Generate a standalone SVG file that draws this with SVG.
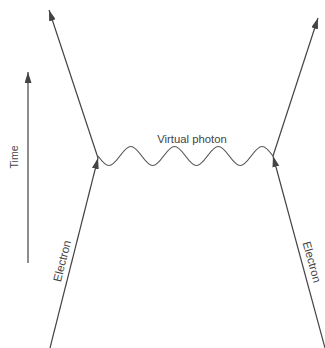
<svg xmlns="http://www.w3.org/2000/svg" width="325" height="348" viewBox="0 0 325 348">
  <defs>
    <marker id="arrow" markerUnits="userSpaceOnUse" markerWidth="11" markerHeight="7" refX="11" refY="3.5" orient="auto">
      <path d="M0,0 L11,3.5 L0,7 z" fill="#444"/>
    </marker>
  </defs>
  <style>
    .line { stroke: #444; stroke-width: 1.2; fill: none; }
    .wave { stroke: #555; stroke-width: 1.2; fill: none; }
    .lbl { font-family: "Liberation Sans", Arial, sans-serif; fill: #444; text-anchor: middle; }
  </style>
  <rect width="325" height="348" fill="#ffffff"/>
  <g id="connectors">
    <line id="time-axis" class="line" x1="28" y1="263" x2="28" y2="72" marker-end="url(#arrow)"/>
    <line id="e1-in" class="line" x1="50" y1="348" x2="98" y2="158" marker-end="url(#arrow)"/>
    <line id="e1-out" class="line" x1="98" y1="158" x2="49" y2="10" marker-end="url(#arrow)"/>
    <line id="e2-in" class="line" x1="325" y1="348" x2="273" y2="156" marker-end="url(#arrow)"/>
    <line id="e2-out" class="line" x1="273" y1="156" x2="318" y2="18" marker-end="url(#arrow)"/>
    <path id="photon" class="wave" d="M98,156
      c 3.57,4.87 6.98,9.5 10.94,9.5 c 3.96,0 7.37,-4.63 10.94,-9.5 c 3.57,-4.87 6.98,-9.5 10.94,-9.5 c 3.96,0 7.37,4.63 10.94,9.5
      c 3.57,4.87 6.98,9.5 10.94,9.5 c 3.96,0 7.37,-4.63 10.94,-9.5 c 3.57,-4.87 6.98,-9.5 10.94,-9.5 c 3.96,0 7.37,4.63 10.94,9.5
      c 3.57,4.87 6.98,9.5 10.94,9.5 c 3.96,0 7.37,-4.63 10.94,-9.5 c 3.57,-4.87 6.98,-9.5 10.94,-9.5 c 3.96,0 7.37,4.63 10.94,9.5
      c 3.57,4.87 6.98,9.5 10.94,9.5 c 3.96,0 7.37,-4.63 10.94,-9.5 c 3.57,-4.87 6.98,-9.5 10.94,-9.5 c 3.96,0 7.37,4.63 10.94,9.5"/>
  </g>
  <g id="label-time">
    <text class="lbl" font-size="10.5" transform="translate(14,157) rotate(-90)" y="3.7">Time</text>
  </g>
  <g id="label-photon">
    <text class="lbl" font-size="11.3" x="192" y="143">Virtual photon</text>
  </g>
  <g id="label-electron-left">
    <text class="lbl" font-size="11.5" transform="translate(62,261) rotate(-76)" y="4">Electron</text>
  </g>
  <g id="label-electron-right">
    <text class="lbl" font-size="11.5" transform="translate(312,262) rotate(74.6)" y="4">Electron</text>
  </g>
</svg>
